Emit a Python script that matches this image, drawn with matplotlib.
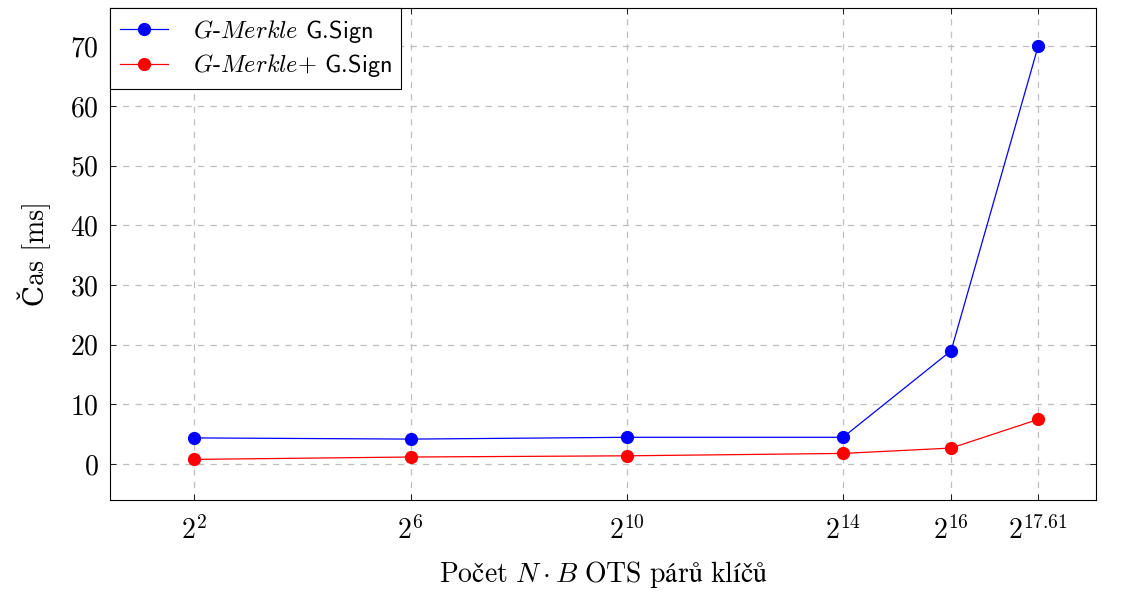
import matplotlib
matplotlib.use("Agg")
import matplotlib.pyplot as plt

plt.rcParams["font.family"] = ["cmr10", "DejaVu Serif"]
plt.rcParams["mathtext.fontset"] = "cm"
plt.rcParams["axes.formatter.use_mathtext"] = True

# exponent of 2 for N*B OTS key pairs
exps = [2, 6, 10, 14, 16, 17.61]
tick_labels = [r"$2^{2}$", r"$2^{6}$", r"$2^{10}$", r"$2^{14}$", r"$2^{16}$", r"$2^{17.61}$"]
merkle_sign = [4.4, 4.2, 4.5, 4.5, 19.0, 70.0]
merkle_plus_sign = [0.8, 1.2, 1.4, 1.8, 2.7, 7.5]
yticks = [0, 10, 20, 30, 40, 50, 60, 70]

fig = plt.figure(figsize=(11.24, 5.92), dpi=100)
ax = fig.add_axes([110 / 1124, 92 / 592, 986 / 1124, 492 / 592])

ax.plot(exps, merkle_sign, color="blue", lw=0.9, marker="o", ms=8.5,
        label=r"$\mathit{G}$-$\mathit{Merkle}$ $\mathsf{G.\!Sign}$")
ax.plot(exps, merkle_plus_sign, color="red", lw=0.9, marker="o", ms=8.5,
        label=r"$\mathit{G}$-$\mathit{Merkle}$+ $\mathsf{G.\!Sign}$")

ax.set_xlim(0.44, 18.68)
ax.set_ylim(-6.0, 76.4)
ax.set_xticks(exps)
ax.set_xticklabels(tick_labels)
ax.set_yticks(yticks)
ax.set_yticklabels([f"${v}$" for v in yticks])
ax.tick_params(axis="both", direction="in", top=True, right=True, labelsize=20,
               length=4, width=0.6)
ax.tick_params(axis="x", pad=12)
ax.tick_params(axis="y", pad=8)
ax.grid(True, color="#bfbfbf", ls=(0, (5, 5)), lw=0.9)
for s in ax.spines.values():
    s.set_linewidth(0.8)

ax.set_xlabel(r"$\mathrm{Počet}\ N \cdot B\ \mathrm{OTS\ párů\ klíčů}$",
              fontsize=20, labelpad=10)
ax.set_ylabel("Čas [ms]", fontsize=20, labelpad=14)

leg = ax.legend(loc="upper left", fontsize=17.5, fancybox=False, edgecolor="black",
                framealpha=1, borderaxespad=0, handlelength=2.0, handletextpad=1.0,
                borderpad=0.4, labelspacing=0.3)
leg.get_frame().set_linewidth(0.8)

fig.savefig("out.png", dpi=100)
